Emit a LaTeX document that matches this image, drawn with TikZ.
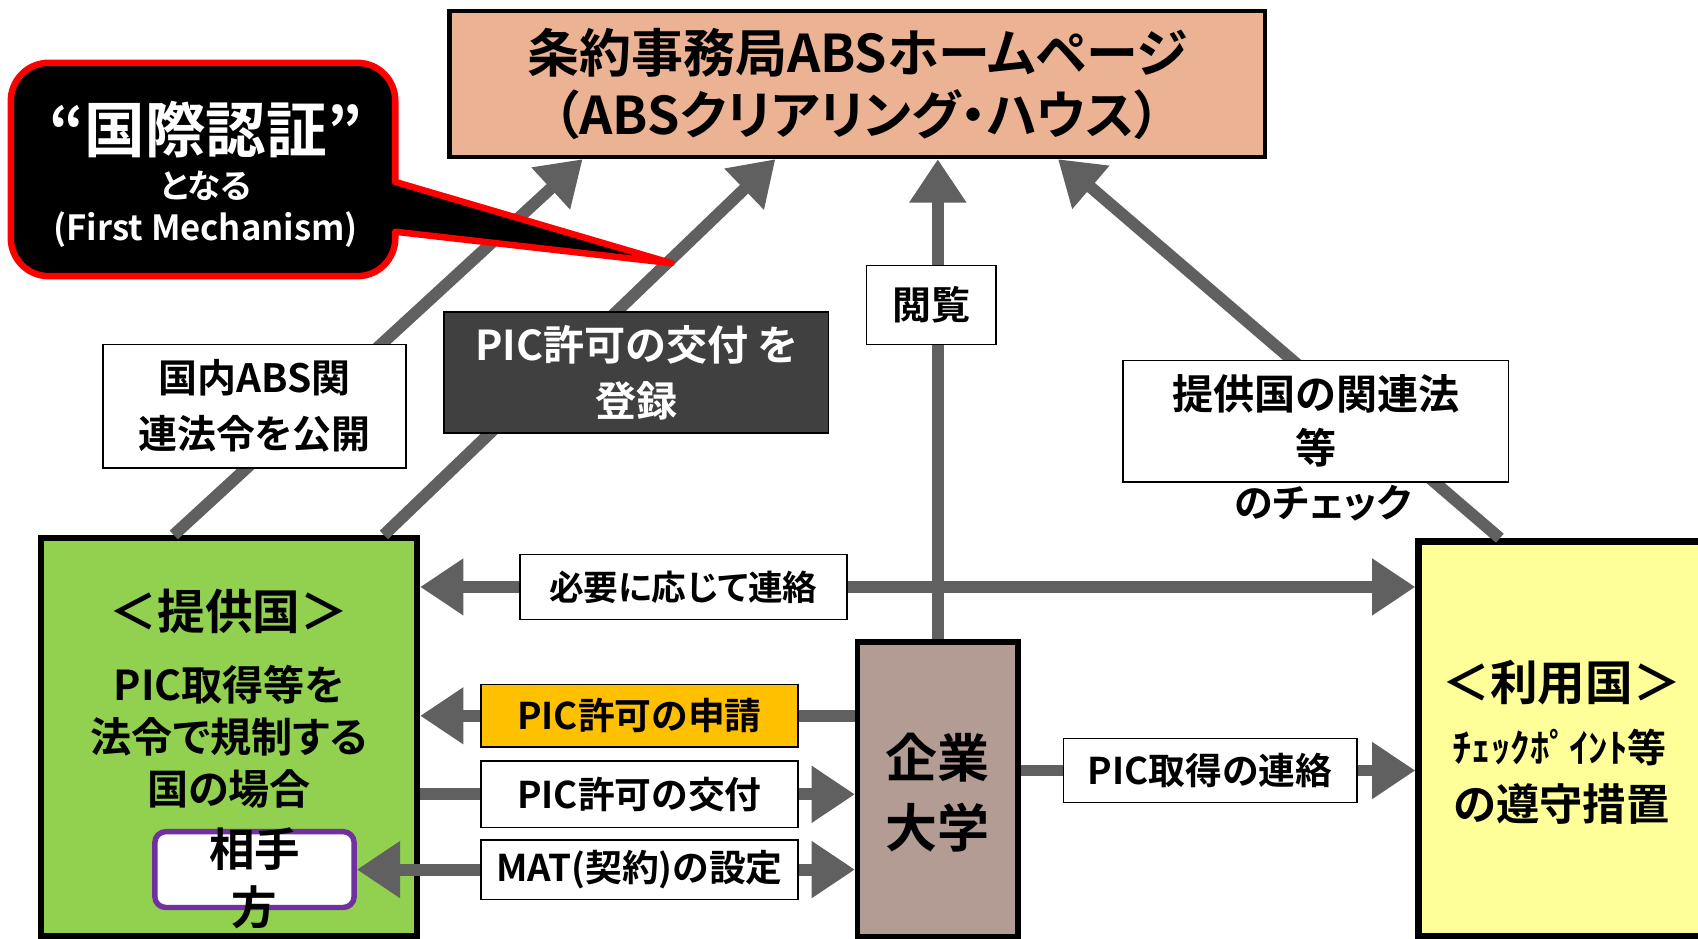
\documentclass[tikz,border=0pt]{standalone}
\usepackage{fontspec}
\setmainfont{Noto Sans CJK JP}[BoldFont={Noto Sans CJK JP Bold},RawFeature=+palt]
\usetikzlibrary{arrows.meta}
\definecolor{arrgray}{HTML}{606060}
\definecolor{webfill}{HTML}{EBB294}
\definecolor{provfill}{HTML}{92D050}
\definecolor{userfill}{HTML}{FFFF99}
\definecolor{firmfill}{HTML}{B39C94}
\definecolor{regfill}{HTML}{404040}
\definecolor{appfill}{HTML}{FFC000}
\definecolor{partyline}{HTML}{7030A0}
\newcommand\fsz[2]{\fontsize{#1}{#2}\selectfont\bfseries}
\pgfdeclarelayer{bg}
\pgfdeclarelayer{links}
\pgfsetlayers{bg,links,main}
\tikzset{box/.style={draw,line width=5pt,inner sep=0pt},
  lbl/.style={draw,fill=white,line width=1.5pt,inner sep=0pt,align=center,font=\fsz{34}{46}},
  txt/.style={inner sep=0pt,align=center},
  arr/.style={draw=arrgray,line width=11pt,-{Triangle[length=40pt,width=50pt]}},
  darr/.style={arr,{Triangle[length=40pt,width=50pt]}-{Triangle[length=40pt,width=50pt]}}}

\begin{document}
\begin{tikzpicture}[x=1pt,y=-1pt]
\useasboundingbox (0,0) rectangle (1568,867);
% boxes
\begin{pgfonlayer}{bg}
\node[box,line width=4pt,fill=webfill,minimum width=753pt,minimum height=135pt,align=center,
  font=\fsz{48}{58}] (web) at (791.5,77.5) {条約事務局ABSホームページ\\（ABSクリアリング・ハウス）};
\node[box,line width=6pt,fill=provfill,minimum width=347pt,minimum height=368pt] (prov) at (211.5,681) {};
\node[box,line width=6pt,fill=userfill,minimum width=290pt,minimum height=365pt] (user) at (1455,682.5) {};
\node[box,fill=firmfill,minimum width=148pt,minimum height=272pt] (firm) at (866,729) {};
\node[box,draw=partyline,fill=white,rounded corners=10pt,minimum width=184pt,minimum height=70pt] (party) at (235,803) {};
\end{pgfonlayer}

% texts in boxes
\node[txt,font=\fsz{44}{50}] (provt) at (211.5,565) {＜提供国＞};
\node[txt,font=\fsz{38}{48}] (provs) at (211.5,680) {PIC取得等を\\法令で規制する\\国の場合};
\node[txt,font=\fsz{42}{53}] (partyt) at (235,811) {相手\\方};
\node[txt,font=\fsz{48}{65}] (firmt) at (866,732) {企業\\大学};
\node[txt,font=\fsz{44}{50}] (usert) at (1442,630) {＜利用国＞};
\node[txt,font=\fsz{36}{40}] (users) at (1440,690) {ﾁｪｯｸﾎﾟｲﾝﾄ等};
\node[txt,font=\fsz{40}{50}] (userm) at (1442,742) {の遵守措置};

% callout
\draw[draw=red,line width=6pt,fill=black,line join=round] (365,214) -- (620,243) -- (365,168)
  [rounded corners=35pt] -- (365,58) -- (10,58) -- (10,255) -- (365,255) [sharp corners] -- cycle;
\node[txt,text=white,font=\fsz{56}{60}] (call) at (190,120) {“国際認証”};
\node[txt,text=white,font=\fsz{31}{34}] (call2) at (190,172) {となる};
\node[txt,text=white,font=\fsz{32}{34}] (call3) at (190,212) {(First Mechanism)};

% labels
\node[lbl,font=\fsz{36}{52},minimum width=280pt,minimum height=114pt] (pub) at (235,375) {国内ABS関\\連法令を公開};
\node[lbl,fill=regfill,text=white,font=\fsz{38}{52},minimum width=355pt,minimum height=112pt] (reg) at (587.5,344) {PIC許可の交付 を\\登録};
\node[lbl,font=\fsz{36}{52},minimum width=120pt,minimum height=73pt] (view) at (860,281.5) {閲覧};
\node[lbl,font=\fsz{38}{50},minimum width=356pt,minimum height=112pt] (chk) at (1215,389) {提供国の関連法\\等};
\node[txt,font=\fsz{36}{50}] (chk2) at (1222,465) {のチェック};
\node[lbl,font=\fsz{32}{46},minimum width=302pt,minimum height=60pt] (ctc) at (631,542) {必要に応じて連絡};
\node[lbl,fill=appfill,minimum width=293pt,minimum height=58pt] (app) at (590.5,661) {PIC許可の申請};
\node[lbl,minimum width=293pt,minimum height=61pt] (iss) at (590.5,733.5) {PIC許可の交付};
\node[lbl,minimum width=293pt,minimum height=55pt] (mat) at (590.5,803) {MAT(契約)の設定};
\node[lbl,minimum width=271pt,minimum height=59pt] (inf) at (1117.5,711.5) {PIC取得の連絡};

% connectors
\begin{pgfonlayer}{links}
\draw[arr] ([xshift=-51pt]prov.north) -- ([xshift=125pt]web.south west);
\draw[arr] ([xshift=143pt]prov.north) -- ([xshift=303pt]web.south west);
\draw[arr] (firm.north) -- (firm.north |- web.south);
\draw[arr] ([xshift=-70pt]user.north) -- ([xshift=-193pt]web.south east);
\draw[darr] (prov.east |- ctc) -- (user.west |- ctc);
\draw[arr] (firm.west |- app) -- (prov.east |- app);
\draw[arr] (prov.east |- iss) -- (firm.west |- iss);
\draw[darr] (party.east) -- (firm.west |- party.east);
\draw[arr] (firm.east |- inf) -- (user.west |- inf);
\end{pgfonlayer}
\end{tikzpicture}
\end{document}
